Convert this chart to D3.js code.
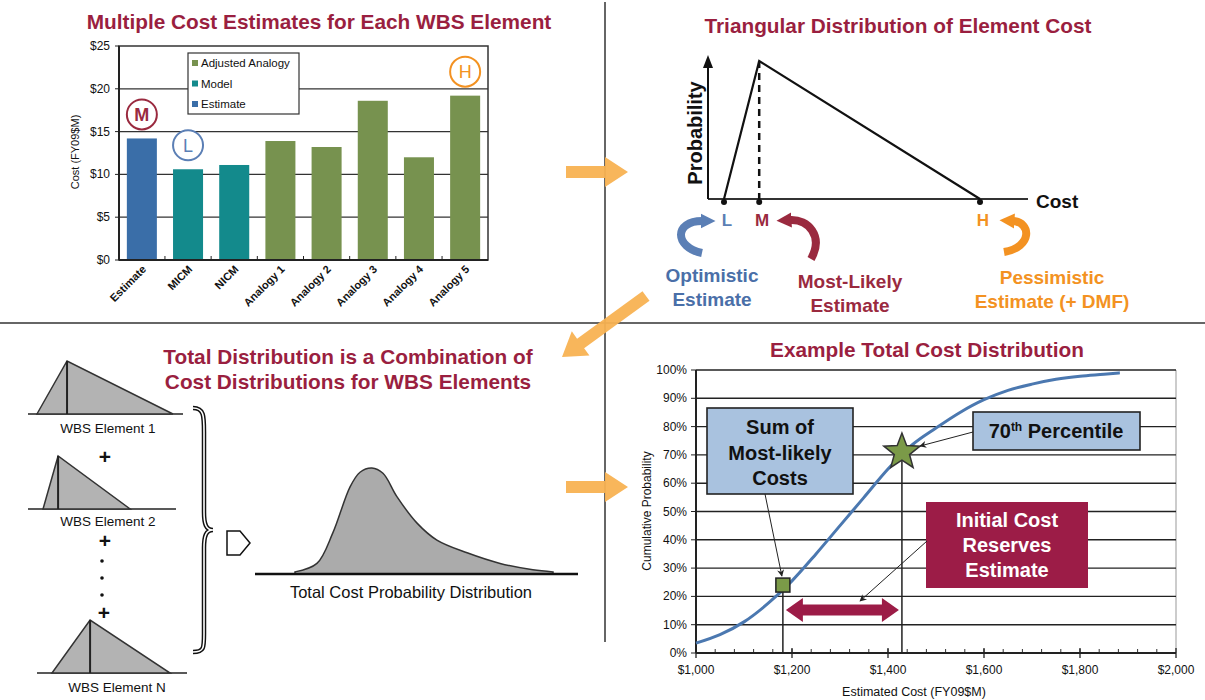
<!DOCTYPE html>
<html><head><meta charset="utf-8">
<script src="https://cdn.jsdelivr.net/npm/d3@7"></script>
<style>body{margin:0;background:#fff}svg{display:block;font-family:"Liberation Sans",Arial,sans-serif}</style>
</head><body><svg id="c" width="1205" height="700"></svg>
<script>
// ---------------- DATA ----------------
// Panel 1: bar chart
const barCategories = ["Estimate","MICM","NICM","Analogy 1","Analogy 2","Analogy 3","Analogy 4","Analogy 5"];
const barValues = [14.2, 10.6, 11.1, 13.9, 13.2, 18.6, 12.0, 19.2];
const barSeries = ["Estimate","Model","Model","Adjusted Analogy","Adjusted Analogy","Adjusted Analogy","Adjusted Analogy","Adjusted Analogy"];
const legendItems = ["Adjusted Analogy","Model","Estimate"];
const costTicks = [0,5,10,15,20,25];
const markLabels = ["M","L","H"];
const markCategories = ["Estimate","MICM","Analogy 5"];

// Panel 2: triangular distribution
const triLabels = ["L","M","H"];
const triCosts = [5, 16, 85];
const triProb = [0, 1, 0];
const triNotesTop = ["Optimistic","Most-Likely","Pessimistic"];
const triNotesBottom = ["Estimate","Estimate","Estimate (+ DMF)"];

// Panel 3: WBS elements and total distribution
const wbsNames = ["WBS Element 1","WBS Element 2","WBS Element N"];
const wbsLow = [5.6, 9.4, 15];
const wbsMode = [24.4, 18.8, 38.8];
const wbsHigh = [90.6, 63.8, 88.8];
const totalCost = [0, 8.5, 14.7, 21.3, 25.2, 29.8, 34.1, 39.5, 47.3, 55, 66.7, 79.5, 92.2, 100];
const totalDensity = [0.02, 0.10, 0.39, 0.82, 0.96, 1.0, 0.95, 0.73, 0.48, 0.32, 0.20, 0.10, 0.04, 0.02];

// Panel 4: cumulative distribution
const cdfCost = [1000,1050,1100,1150,1200,1250,1300,1350,1400,1450,1500,1550,1600,1650,1700,1750,1800,1850,1883];
const cdfProb = [3.5,6.5,11,17.5,25.5,35,45,55,65,73.5,79.5,85,89.5,92.8,95,96.7,97.8,98.5,99];
const cdfXTicks = [1000,1200,1400,1600,1800,2000];
const cdfYTicks = [0,10,20,30,40,50,60,70,80,90,100];
const sumMLCost = 1181, sumMLProb = 24;
const p70Cost = 1429, p70Prob = 71;

// ---------------- STYLE ----------------
const MAROON = "#9a1f40";
const seriesColor = {"Estimate":"#3a6ea8","Model":"#138a8c","Adjusted Analogy":"#77924f"};
const markColor = {"M":"#9a2a3f","L":"#5b7fb5","H":"#f39222"};
const ORANGE = "#f8b252";

const svg = d3.select("#c");
svg.append("rect").attr("width",1205).attr("height",700).attr("fill","#fff");

const defs = svg.append("defs");
defs.append("marker").attr("id","thin").attr("viewBox","0 0 10 10").attr("refX",9).attr("refY",5)
  .attr("markerWidth",9).attr("markerHeight",7).attr("markerUnits","userSpaceOnUse").attr("orient","auto")
  .append("path").attr("d","M0,0 L10,5 L0,10 L3,5 Z").attr("fill","#222");
Object.entries(markColor).forEach(([k,c])=>{
  defs.append("marker").attr("id","head"+k).attr("viewBox","0 0 10 10").attr("refX",1).attr("refY",5)
    .attr("markerWidth",15).attr("markerHeight",19).attr("markerUnits","userSpaceOnUse").attr("orient","auto")
    .append("path").attr("d","M0,0 L10,5 L0,10 Z").attr("fill",c);
});

function bigArrow(x1,y1,x2,y2,sw,hw,hl,color){
  const L = Math.hypot(x2-x1,y2-y1), a = Math.atan2(y2-y1,x2-x1)*180/Math.PI;
  const pts = [[0,-sw/2],[L-hl,-sw/2],[L-hl,-hw/2],[L,0],[L-hl,hw/2],[L-hl,sw/2],[0,sw/2]];
  svg.append("polygon").attr("points",pts.map(p=>p.join(",")).join(" "))
    .attr("transform",`translate(${x1},${y1}) rotate(${a})`).attr("fill",color).attr("opacity",0.95);
}
function title(x,y,t){
  svg.append("text").attr("x",x).attr("y",y).attr("text-anchor","middle").attr("font-size",20.8)
    .attr("font-weight","bold").attr("fill",MAROON).text(t);
}

// dividers
svg.append("line").attr("x1",0).attr("x2",1205).attr("y1",323).attr("y2",323).attr("stroke","#333").attr("stroke-width",1.5);
svg.append("line").attr("x1",605).attr("x2",605).attr("y1",2).attr("y2",642).attr("stroke","#333").attr("stroke-width",1.5);

// ================= PANEL 1 =================
title(319,29,"Multiple Cost Estimates for Each WBS Element");
const bx = d3.scaleBand().domain(barCategories).range([119,488]).paddingInner(0.35).paddingOuter(0.17);
const by = d3.scaleLinear().domain([0,25]).range([260,46]);
const p1 = svg.append("g");
p1.append("rect").attr("x",119).attr("y",by(25)).attr("width",369).attr("height",by(0)-by(25))
  .attr("fill","#fff").attr("stroke","#333").attr("stroke-width",1.5);
p1.selectAll(".grid").data(costTicks.filter(d=>d>0&&d<25)).join("line")
  .attr("x1",119).attr("x2",488).attr("y1",d=>by(d)).attr("y2",d=>by(d)).attr("stroke","#333").attr("stroke-width",1.3);
p1.selectAll(".bar").data(barValues).join("rect")
  .attr("x",(d,i)=>bx(barCategories[i])).attr("width",bx.bandwidth())
  .attr("y",d=>by(d)).attr("height",d=>by(0)-by(d)).attr("fill",(d,i)=>seriesColor[barSeries[i]]);
p1.append("line").attr("x1",119).attr("x2",488).attr("y1",by(0)).attr("y2",by(0)).attr("stroke","#222").attr("stroke-width",2);
p1.append("line").attr("x1",119).attr("x2",119).attr("y1",by(0)).attr("y2",by(25)).attr("stroke","#222").attr("stroke-width",2);
p1.selectAll(".yt").data(costTicks).join("text").attr("x",110).attr("y",d=>by(d)+4)
  .attr("text-anchor","end").attr("font-size",12).attr("fill","#111").text(d=>"$"+d);
p1.selectAll(".ytk").data(costTicks).join("line").attr("x1",115).attr("x2",119).attr("y1",d=>by(d)).attr("y2",d=>by(d)).attr("stroke","#222");
p1.selectAll(".xtk").data(barCategories.slice(1)).join("line")
  .attr("x1",d=>bx(d)-bx.step()*bx.paddingInner()/2).attr("x2",d=>bx(d)-bx.step()*bx.paddingInner()/2)
  .attr("y1",by(0)).attr("y2",by(0)-4).attr("stroke","#222");
p1.selectAll(".xl").data(barCategories).join("text")
  .attr("transform",d=>`translate(${bx(d)+bx.bandwidth()/2+5},${by(0)+10}) rotate(-45)`)
  .attr("text-anchor","end").attr("font-size",11).attr("font-weight","bold").attr("fill","#111").text(d=>d);
p1.append("text").attr("transform","translate(79,152) rotate(-90)").attr("text-anchor","middle")
  .attr("font-size",11).attr("fill","#111").text("Cost (FY09$M)");
// legend
const lg = p1.append("g");
lg.append("rect").attr("x",188).attr("y",53).attr("width",111).attr("height",61).attr("fill","#fff").attr("stroke","#333").attr("stroke-width",1.2);
legendItems.forEach((s,i)=>{
  const y = 63 + i*20.5;
  lg.append("rect").attr("x",192).attr("y",y-3).attr("width",6).attr("height",6).attr("fill",seriesColor[s]);
  lg.append("text").attr("x",201).attr("y",y+4).attr("font-size",11.5).attr("fill","#111").text(s);
});
// circled letters
markLabels.forEach((m,i)=>{
  const c = markCategories[i];
  const cx = bx(c)+bx.bandwidth()/2, cy = by(barValues[barCategories.indexOf(c)]) - 24;
  p1.append("circle").attr("cx",cx).attr("cy",cy).attr("r",15).attr("fill","#fff").attr("stroke",markColor[m]).attr("stroke-width",2);
  p1.append("text").attr("x",cx).attr("y",cy+6.5).attr("text-anchor","middle").attr("font-size",18)
    .attr("font-weight", m==="M"?"bold":"normal").attr("fill",markColor[m]).text(m);
});

// ================= PANEL 2 =================
title(898,33,"Triangular Distribution of Element Cost");
const tx = d3.scaleLinear().domain([0,100]).range([708,1028]);
const ty = d3.scaleLinear().domain([0,1]).range([199,61]);
const p2 = svg.append("g");
p2.append("line").attr("x1",tx(0)).attr("x2",tx(100)).attr("y1",ty(0)).attr("y2",ty(0)).attr("stroke","#333").attr("stroke-width",2);
p2.append("line").attr("x1",tx(0)).attr("x2",tx(0)).attr("y1",ty(0)).attr("y2",66).attr("stroke","#111").attr("stroke-width",2);
p2.append("path").attr("d",`M${tx(0)-5},68 L${tx(0)},55 L${tx(0)+5},68 Z`).attr("fill","#111");
p2.append("path").datum(triCosts.map((c,i)=>[c,triProb[i]]))
  .attr("d",d3.line().x(d=>tx(d[0])).y(d=>ty(d[1]))).attr("fill","none").attr("stroke","#111").attr("stroke-width",2.2);
p2.append("line").attr("x1",tx(triCosts[1])).attr("x2",tx(triCosts[1])).attr("y1",ty(1)).attr("y2",ty(0))
  .attr("stroke","#111").attr("stroke-width",2.5).attr("stroke-dasharray","7,5");
p2.selectAll(".dot").data(triCosts).join("circle").attr("cx",d=>tx(d)).attr("cy",ty(0)+3).attr("r",3).attr("fill","#111");
p2.selectAll(".tl").data(triLabels).join("text").attr("x",(d,i)=>tx(triCosts[i])+3).attr("y",226)
  .attr("text-anchor","middle").attr("font-size",17).attr("font-weight","bold").attr("fill",d=>markColor[d]).text(d=>d);
p2.append("text").attr("transform","translate(702,133) rotate(-90)").attr("text-anchor","middle")
  .attr("font-size",20).attr("font-weight","bold").attr("fill","#111").text("Probability");
p2.append("text").attr("x",1036).attr("y",208).attr("font-size",19).attr("font-weight","bold").attr("fill","#111").text("Cost");
// curved arrows
p2.append("path").attr("d","M702,253 C674,247 674,221 702,221").attr("fill","none").attr("stroke",markColor.L).attr("stroke-width",8).attr("marker-end","url(#headL)");
p2.append("path").attr("d","M811,259 C824,236 808,219 790,220").attr("fill","none").attr("stroke",markColor.M).attr("stroke-width",8).attr("marker-end","url(#headM)");
p2.append("path").attr("d","M1004,252 C1033,247 1031,222 1013,221").attr("fill","none").attr("stroke",markColor.H).attr("stroke-width",8).attr("marker-end","url(#headH)");
const noteX = [712, 850, 1052], noteY = [282, 288, 284];
triLabels.forEach((l,i)=>{
  const c = l==="L" ? "#4a6fa8" : markColor[l];
  p2.append("text").attr("x",noteX[i]).attr("y",noteY[i]).attr("text-anchor","middle").attr("font-size",19).attr("font-weight","bold").attr("fill",c).text(triNotesTop[i]);
  p2.append("text").attr("x",noteX[i]).attr("y",noteY[i]+24).attr("text-anchor","middle").attr("font-size",19).attr("font-weight","bold").attr("fill",c).text(triNotesBottom[i]);
});

// orange arrows
bigArrow(566,172,628,172,12,30,23,ORANGE);
bigArrow(646,296,562,357,12,30,23,ORANGE);
bigArrow(566,487,628,487,12,30,23,ORANGE);

// ================= PANEL 3 =================
title(348,364,"Total Distribution is a Combination of");
title(348,389,"Cost Distributions for WBS Elements");
const wx = d3.scaleLinear().domain([0,100]).range([28,188]);
const wbsBase = [414, 509, 673];
const wbsLine = [[28,183],[28,176],[37,187]];
const wbsLabelX = [108,108,117];
const wbsLabelDy = [19,17,19];
const wH = 53;
const p3 = svg.append("g");
wbsNames.forEach((n,i)=>{
  const b = wbsBase[i];
  p3.append("line").attr("x1",wbsLine[i][0]).attr("x2",wbsLine[i][1]).attr("y1",b).attr("y2",b).attr("stroke","#222").attr("stroke-width",1.5);
  p3.append("path").attr("d",`M${wx(wbsLow[i])},${b} L${wx(wbsMode[i])},${b-wH} L${wx(wbsHigh[i])},${b} Z`)
    .attr("fill","#b3b3b3").attr("stroke","#333").attr("stroke-width",1.5);
  p3.append("line").attr("x1",wx(wbsMode[i])).attr("x2",wx(wbsMode[i])).attr("y1",b-wH).attr("y2",b).attr("stroke","#222").attr("stroke-width",2);
  p3.append("text").attr("x",wbsLabelX[i]).attr("y",b+wbsLabelDy[i]).attr("text-anchor","middle").attr("font-size",13.5).attr("fill","#111").text(n);
});
[[105,464],[105,548],[104,620]].forEach(p=>p3.append("text").attr("x",p[0]).attr("y",p[1]).attr("text-anchor","middle").attr("font-size",21).attr("font-weight","bold").attr("fill","#111").text("+"));
[561,578,595].forEach(y=>p3.append("circle").attr("cx",102).attr("cy",y).attr("r",1.8).attr("fill","#111"));
// brace
const braceD = "M193,408 C204,408 204,416 204,432 L204,512 C204,524 206,530 213,530 C206,530 204,536 204,548 L204,634 C204,648 204,652 193,652";
p3.append("path").attr("d",braceD).attr("fill","none").attr("stroke","#111").attr("stroke-width",4.5);
p3.append("path").attr("d",braceD).attr("fill","none").attr("stroke","#fff").attr("stroke-width",1.6);
p3.append("path").attr("d","M227,531 L240,531 L250,543 L240,555 L227,555 Z").attr("fill","#fff").attr("stroke","#111").attr("stroke-width",1.5);
// total distribution
const gx = d3.scaleLinear().domain([0,100]).range([295,553]);
const gy = d3.scaleLinear().domain([0,1]).range([574,468]);
p3.append("path").datum(totalCost.map((c,i)=>[c,totalDensity[i]]))
  .attr("d",d3.area().x(d=>gx(d[0])).y0(gy(0)).y1(d=>gy(d[1])).curve(d3.curveCatmullRom.alpha(0.5)))
  .attr("fill","#ababab").attr("stroke","#333").attr("stroke-width",1.5);
p3.append("line").attr("x1",255).attr("x2",578).attr("y1",gy(0)).attr("y2",gy(0)).attr("stroke","#111").attr("stroke-width",2.5);
p3.append("text").attr("x",411).attr("y",598).attr("text-anchor","middle").attr("font-size",16.5).attr("fill","#111").text("Total Cost Probability Distribution");

// ================= PANEL 4 =================
title(927,357,"Example Total Cost Distribution");
const cx = d3.scaleLinear().domain([1000,2000]).range([696,1176]);
const cy = d3.scaleLinear().domain([0,100]).range([653,370]);
const p4 = svg.append("g");
p4.append("line").attr("x1",cx(2000)).attr("x2",cx(2000)).attr("y1",cy(0)).attr("y2",cy(100)).attr("stroke","#aaa").attr("stroke-width",1.2);
p4.selectAll(".hg").data(cdfYTicks.filter(d=>d>0)).join("line").attr("x1",cx(1000)).attr("x2",cx(2000))
  .attr("y1",d=>cy(d)).attr("y2",d=>cy(d)).attr("stroke","#222").attr("stroke-width",1.4);
p4.selectAll(".yt").data(cdfYTicks).join("text").attr("x",687).attr("y",d=>cy(d)+4).attr("text-anchor","end")
  .attr("font-size",12).attr("fill","#111").text(d=>d+"%");
p4.selectAll(".ytk").data(cdfYTicks).join("line").attr("x1",691).attr("x2",696).attr("y1",d=>cy(d)).attr("y2",d=>cy(d)).attr("stroke","#222");
p4.selectAll(".mtk").data(d3.range(1040,2000,40)).join("line").attr("x1",d=>cx(d)).attr("x2",d=>cx(d))
  .attr("y1",cy(0)).attr("y2",cy(0)-4).attr("stroke","#333");
p4.selectAll(".xtk").data(cdfXTicks).join("line").attr("x1",d=>cx(d)).attr("x2",d=>cx(d))
  .attr("y1",cy(0)-5).attr("y2",cy(0)+5).attr("stroke","#222").attr("stroke-width",1.3);
p4.selectAll(".xt").data(cdfXTicks).join("text").attr("x",d=>cx(d)).attr("y",674).attr("text-anchor","middle")
  .attr("font-size",12).attr("fill","#111").text(d=>"$"+d3.format(",")(d));
p4.append("line").attr("x1",cx(1000)).attr("x2",cx(2000)).attr("y1",cy(0)).attr("y2",cy(0)).attr("stroke","#222").attr("stroke-width",2);
p4.append("line").attr("x1",cx(1000)).attr("x2",cx(1000)).attr("y1",cy(0)).attr("y2",cy(100)).attr("stroke","#222").attr("stroke-width",2);
p4.append("text").attr("x",914).attr("y",696).attr("text-anchor","middle").attr("font-size",12.5).attr("fill","#111").text("Estimated Cost (FY09$M)");
p4.append("text").attr("transform","translate(651,511) rotate(-90)").attr("text-anchor","middle").attr("font-size",12).attr("fill","#111").text("Cumulative Probability");
// reference verticals
p4.append("line").attr("x1",cx(sumMLCost)).attr("x2",cx(sumMLCost)).attr("y1",cy(0)).attr("y2",cy(sumMLProb)).attr("stroke","#222").attr("stroke-width",1.5);
p4.append("line").attr("x1",cx(p70Cost)).attr("x2",cx(p70Cost)).attr("y1",cy(0)).attr("y2",cy(p70Prob)).attr("stroke","#222").attr("stroke-width",1.5);
// curve
p4.append("path").datum(cdfCost.map((c,i)=>[c,cdfProb[i]]))
  .attr("d",d3.line().x(d=>cx(d[0])).y(d=>cy(d[1])).curve(d3.curveMonotoneX))
  .attr("fill","none").attr("stroke","#4b78b0").attr("stroke-width",3);
// markers
p4.append("rect").attr("x",cx(sumMLCost)-7).attr("y",cy(sumMLProb)-7).attr("width",14).attr("height",14)
  .attr("fill","#7b9a48").attr("stroke","#222").attr("stroke-width",1.5);
const starPts = d3.range(10).map(i=>{const r = i%2? 8 : 19; const a = -Math.PI/2 + i*Math.PI/5; return [cx(p70Cost)+r*Math.cos(a), cy(p70Prob)+r*Math.sin(a)];});
p4.append("polygon").attr("points",starPts.map(p=>p.join(",")).join(" ")).attr("fill","#7b9a48").attr("stroke","#333").attr("stroke-width",1.5);
// double arrow
{
  const x1 = cx(sumMLCost)+3, x2 = cx(p70Cost)-3, y = 610, sw=11, hw=24, hl=17;
  const pts = [[x1,y],[x1+hl,y-hw/2],[x1+hl,y-sw/2],[x2-hl,y-sw/2],[x2-hl,y-hw/2],[x2,y],[x2-hl,y+hw/2],[x2-hl,y+sw/2],[x1+hl,y+sw/2],[x1+hl,y+hw/2]];
  p4.append("polygon").attr("points",pts.map(p=>p.join(",")).join(" ")).attr("fill","#9c1c47");
}
// callout boxes
function box(x,y,w,h,fill){ p4.append("rect").attr("x",x).attr("y",y).attr("width",w).attr("height",h).attr("fill",fill).attr("stroke","#222").attr("stroke-width",1.6); }
box(707,408,146,86,"#a9c2df");
[["Sum of",434],["Most-likely",460],["Costs",485]].forEach(t=>p4.append("text").attr("x",780).attr("y",t[1]).attr("text-anchor","middle").attr("font-size",20).attr("font-weight","bold").attr("fill","#111").text(t[0]));
box(973,412,167,38,"#a9c2df");
{
  const t = p4.append("text").attr("x",1056).attr("y",438).attr("text-anchor","middle").attr("font-size",20).attr("font-weight","bold").attr("fill","#111");
  t.append("tspan").text("70");
  t.append("tspan").attr("dy",-7).attr("font-size",12).text("th");
  t.append("tspan").attr("dy",7).text(" Percentile");
}
p4.append("rect").attr("x",926).attr("y",502).attr("width",162).attr("height",86).attr("fill","#9c1c47");
[["Initial Cost",527],["Reserves",552],["Estimate",577]].forEach(t=>p4.append("text").attr("x",1007).attr("y",t[1]).attr("text-anchor","middle").attr("font-size",20).attr("font-weight","bold").attr("fill","#fff").text(t[0]));
// thin pointers
p4.append("line").attr("x1",765).attr("y1",494).attr("x2",cx(sumMLCost)-1).attr("y2",cy(sumMLProb)-9).attr("stroke","#222").attr("stroke-width",1).attr("marker-end","url(#thin)");
p4.append("line").attr("x1",973).attr("y1",432).attr("x2",cx(p70Cost)+18).attr("y2",cy(p70Prob)-6).attr("stroke","#222").attr("stroke-width",1).attr("marker-end","url(#thin)");
p4.append("line").attr("x1",927).attr("y1",541).attr("x2",860).attr("y2",601).attr("stroke","#222").attr("stroke-width",1).attr("marker-end","url(#thin)");
</script></body></html>
